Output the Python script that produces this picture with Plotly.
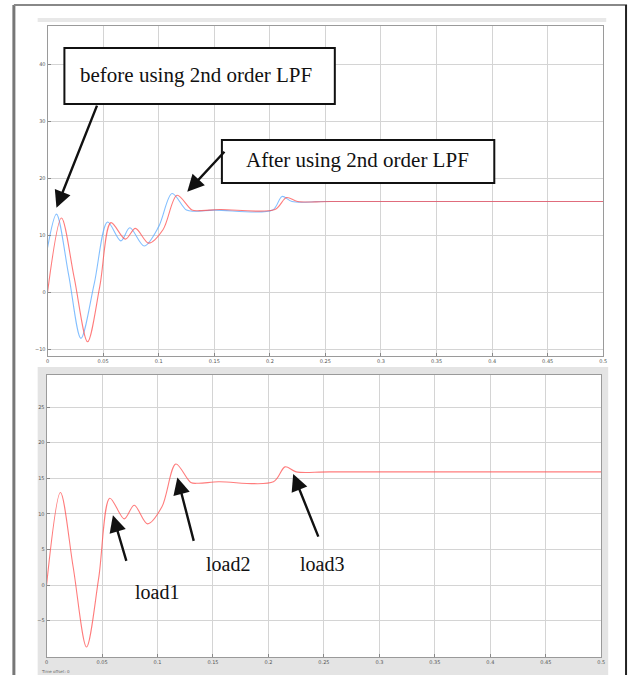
import plotly.graph_objects as go

# Controller output, time in seconds
t_blue = [0, 0.008, 0.019, 0.030, 0.042, 0.054, 0.066, 0.074, 0.087, 0.100, 0.112,
          0.125, 0.132, 0.150, 0.2025, 0.211, 0.220, 0.250, 0.500]
v_blue = [7.8, 13.7, 3.0, -8.1, 1.5, 12.3, 9.0, 11.3, 8.1, 11.5, 17.3,
          14.4, 14.2, 14.4, 14.4, 16.8, 15.9, 15.9, 15.9]

t_red = [0, 0.0125, 0.024, 0.036, 0.047, 0.057, 0.070, 0.079, 0.091, 0.104, 0.1165,
         0.130, 0.137, 0.155, 0.2045, 0.215, 0.225, 0.255, 0.500]
v_red = [0.0, 13.0, 2.5, -8.7, 1.0, 12.2, 9.3, 11.2, 8.6, 11.0, 17.0,
         14.4, 14.3, 14.5, 14.5, 16.6, 15.9, 15.9, 15.9]

x_ticks = [0, 0.05, 0.1, 0.15, 0.2, 0.25, 0.3, 0.35, 0.4, 0.45, 0.5]
x_tick_text = ["0", "0.05", "0.1", "0.15", "0.2", "0.25", "0.3", "0.35", "0.4", "0.45", "0.5"]
y_ticks_top = [-10, 0, 10, 20, 30, 40]
y_ticks_bottom = [-5, 0, 5, 10, 15, 20, 25]

W, H = 634, 675


def px(x):
    return x / W


def py(y):
    return 1 - y / H


RED = "rgba(255,80,80,0.75)"
BLUE = "rgba(90,170,255,0.75)"

fig = go.Figure()
fig.add_trace(go.Scatter(x=t_blue, y=v_blue, mode="lines", line=dict(color=BLUE, width=1.1, shape="spline", smoothing=0.9),
                         xaxis="x", yaxis="y", showlegend=False, hoverinfo="skip"))
fig.add_trace(go.Scatter(x=t_red, y=v_red, mode="lines", line=dict(color=RED, width=1.1, shape="spline", smoothing=0.9),
                         xaxis="x", yaxis="y", showlegend=False, hoverinfo="skip"))
fig.add_trace(go.Scatter(x=t_red, y=v_red, mode="lines", line=dict(color=RED, width=1.1, shape="spline", smoothing=0.9),
                         xaxis="x2", yaxis="y2", showlegend=False, hoverinfo="skip"))

axis_common = dict(showgrid=True, gridcolor="#d4d4d4", gridwidth=1, zeroline=False,
                   showline=True, mirror=True, linecolor="#9a9a9a", linewidth=1,
                   ticks="inside", ticklen=3, tickcolor="#888",
                   tickfont=dict(size=5, color="#555", family="DejaVu Sans"))

fig.update_layout(
    width=W, height=H, margin=dict(l=0, r=0, t=0, b=0),
    paper_bgcolor="white", plot_bgcolor="white",
    xaxis=dict(domain=[px(46), px(607)], range=[0, 0.5], anchor="y",
               tickvals=x_ticks, ticktext=x_tick_text, **axis_common),
    yaxis=dict(domain=[py(356), py(26)], range=[-11.2, 46.7], anchor="x",
               tickvals=y_ticks_top, **axis_common),
    xaxis2=dict(domain=[px(45), px(605)], range=[0, 0.5], anchor="y2",
                tickvals=x_ticks, ticktext=x_tick_text, **axis_common),
    yaxis2=dict(domain=[py(657), py(375)], range=[-10.1, 29.5], anchor="x2",
                tickvals=y_ticks_bottom, **axis_common),
)

shapes = []
# scope window backgrounds and frame
shapes.append(dict(type="rect", xref="paper", yref="paper", layer="below",
                   x0=px(36), x1=px(612), y0=py(676), y1=py(367),
                   fillcolor="#e4e4e4", line=dict(width=0)))
shapes.append(dict(type="rect", xref="paper", yref="paper", layer="below",
                   x0=px(45), x1=px(605), y0=py(657), y1=py(375),
                   fillcolor="white", line=dict(width=0)))
shapes.append(dict(type="rect", xref="paper", yref="paper", layer="below",
                   x0=px(36), x1=px(610), y0=py(22), y1=py(18),
                   fillcolor="#e8e8e8", line=dict(width=0)))
shapes.append(dict(type="line", xref="paper", yref="paper",
                   x0=px(12), x1=px(12), y0=py(5), y1=py(676),
                   line=dict(color="#777", width=3)))
shapes.append(dict(type="line", xref="paper", yref="paper",
                   x0=px(12), x1=px(631), y0=py(5), y1=py(5),
                   line=dict(color="#888", width=2)))
shapes.append(dict(type="line", xref="paper", yref="paper",
                   x0=px(630), x1=px(630), y0=py(5), y1=py(676),
                   line=dict(color="#222", width=2)))
# annotation boxes
shapes.append(dict(type="rect", xref="paper", yref="paper",
                   x0=px(63), x1=px(336), y0=py(104), y1=py(48),
                   fillcolor="white", line=dict(color="#111", width=2)))
shapes.append(dict(type="rect", xref="paper", yref="paper",
                   x0=px(222), x1=px(497), y0=py(183), y1=py(140),
                   fillcolor="white", line=dict(color="#111", width=2)))
fig.update_layout(shapes=shapes)

serif = dict(family="Liberation Serif", size=21, color="#111")
label_font = dict(family="Liberation Serif", size=20, color="#111")
arrow_style = dict(showarrow=True, arrowhead=2, arrowsize=1.4, arrowwidth=2.4, arrowcolor="#111",
                   text="", standoff=0)
centered = dict(xref="paper", yref="paper", showarrow=False, xanchor="center", yanchor="middle")

annotations = [
    dict(x=px(196), y=py(75), text="before using 2nd order LPF", font=serif, **centered),
    dict(x=px(359), y=py(160), text="After using 2nd order LPF", font=serif, **centered),
    dict(x=0.008, y=14.8, xref="x", yref="y", ax=0.045, ay=33.0, axref="x", ayref="y", **arrow_style),
    dict(x=0.1257, y=17.6, xref="x", yref="y", ax=0.1604, ay=24.9, axref="x", ayref="y", **arrow_style),
    dict(x=0.0598, y=9.8, xref="x2", yref="y2", ax=0.0723, ay=3.2, axref="x2", ayref="y2", **arrow_style),
    dict(x=0.1179, y=15.1, xref="x2", yref="y2", ax=0.133, ay=6.0, axref="x2", ayref="y2", **arrow_style),
    dict(x=0.2223, y=15.6, xref="x2", yref="y2", ax=0.2455, ay=6.6, axref="x2", ayref="y2", **arrow_style),
    dict(x=px(156), y=py(592), text="load1", font=label_font, **centered),
    dict(x=px(228), y=py(564), text="load2", font=label_font, **centered),
    dict(x=px(323), y=py(564), text="load3", font=label_font, **centered),
    dict(x=px(37), y=py(671), xref="paper", yref="paper", text="Time offset: 0", showarrow=False,
         xanchor="left", yanchor="middle", font=dict(family="DejaVu Sans", size=4, color="#666")),
]
fig.update_layout(annotations=annotations)

fig.write_html("out.html")
